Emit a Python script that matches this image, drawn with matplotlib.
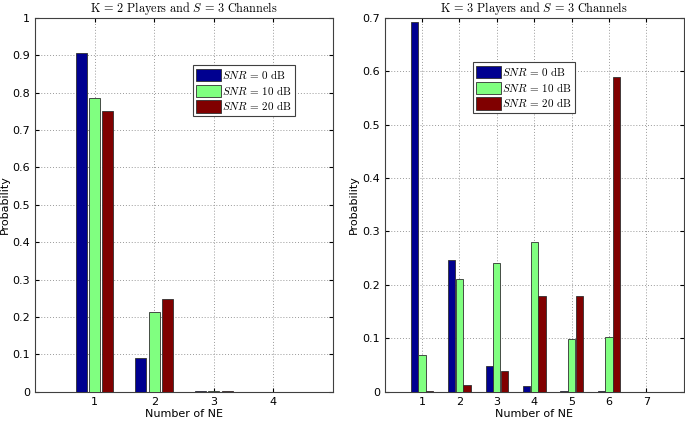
import numpy as np
import matplotlib
matplotlib.use("Agg")
import matplotlib.pyplot as plt

plt.rcParams['mathtext.fontset'] = 'cm'
plt.rcParams['font.family'] = 'DejaVu Sans'

# data
snr_labels = [r"$SNR\,=\,0\ \mathrm{dB}$", r"$SNR\,=\,10\ \mathrm{dB}$", r"$SNR\,=\,20\ \mathrm{dB}$"]
colors = ['#000090', '#80ff80', '#800000']

ne_k2 = [1, 2, 3, 4]
k2_snr0 = [0.906, 0.090, 0.003, 0.0]
k2_snr10 = [0.786, 0.212, 0.002, 0.0]
k2_snr20 = [0.750, 0.249, 0.002, 0.0]

ne_k3 = [1, 2, 3, 4, 5, 6, 7]
k3_snr0 = [0.693, 0.247, 0.048, 0.010, 0.001, 0.001, 0.0]
k3_snr10 = [0.069, 0.211, 0.241, 0.281, 0.098, 0.103, 0.0]
k3_snr20 = [0.001, 0.013, 0.038, 0.179, 0.180, 0.590, 0.0]

fig = plt.figure(figsize=(6.85, 4.21), dpi=100)
ax1 = fig.add_axes([0.0511, 0.0696, 0.435, 0.888])
ax2 = fig.add_axes([0.5615, 0.0696, 0.4368, 0.888])


def draw(ax, ne, series, xmax, ymax, title, legend_loc, step, width):
    x = np.array(ne, dtype=float)
    for i, (vals, c, lab) in enumerate(zip(series, colors, snr_labels)):
        ax.bar(x + (i - 1) * step, vals, width, color=c, edgecolor='#303030',
               linewidth=0.6, label=lab, zorder=3)
    ax.set_xlim(0, xmax)
    ax.set_ylim(0, ymax)
    ax.set_xticks(ne)
    yt = np.round(np.arange(0, ymax + 0.001, 0.1), 1)
    ax.set_yticks(yt)
    ax.set_yticklabels(['0' if v == 0 else ('1' if v == 1 else f"{v:g}") for v in yt])
    ax.grid(True, linestyle=(0, (1, 2)), color='#999999', linewidth=0.7, zorder=0)
    ax.tick_params(direction='in', top=True, right=True, labelsize=8, length=3)
    for s in ax.spines.values():
        s.set_linewidth(0.8)
        s.set_color('#404040')
    ax.set_xlabel('Number of NE', fontsize=8, labelpad=2)
    ax.set_ylabel('Probability', fontsize=8, labelpad=2)
    ax.set_title(title, fontsize=8.8, pad=4)
    leg = ax.legend(loc='upper left', bbox_to_anchor=legend_loc, fontsize=8,
                    fancybox=False, edgecolor='#404040', framealpha=1,
                    handlelength=2.2, handleheight=1.35, handletextpad=0.15,
                    borderpad=0.3, labelspacing=0.2, borderaxespad=0)
    leg.get_frame().set_linewidth(0.8)


draw(ax1, ne_k2, [k2_snr0, k2_snr10, k2_snr20], 5, 1.0,
     r"$\mathrm{K\,=\,2\ Players\ and}\ S\,=\,3\ \mathrm{Channels}$", (0.53, 0.875),
     0.222, 0.185)
draw(ax2, ne_k3, [k3_snr0, k3_snr10, k3_snr20], 8, 0.7,
     r"$\mathrm{K\,=\,3\ Players\ and}\ S\,=\,3\ \mathrm{Channels}$", (0.295, 0.883),
     0.205, 0.195)

fig.savefig('out.png', dpi=100)
